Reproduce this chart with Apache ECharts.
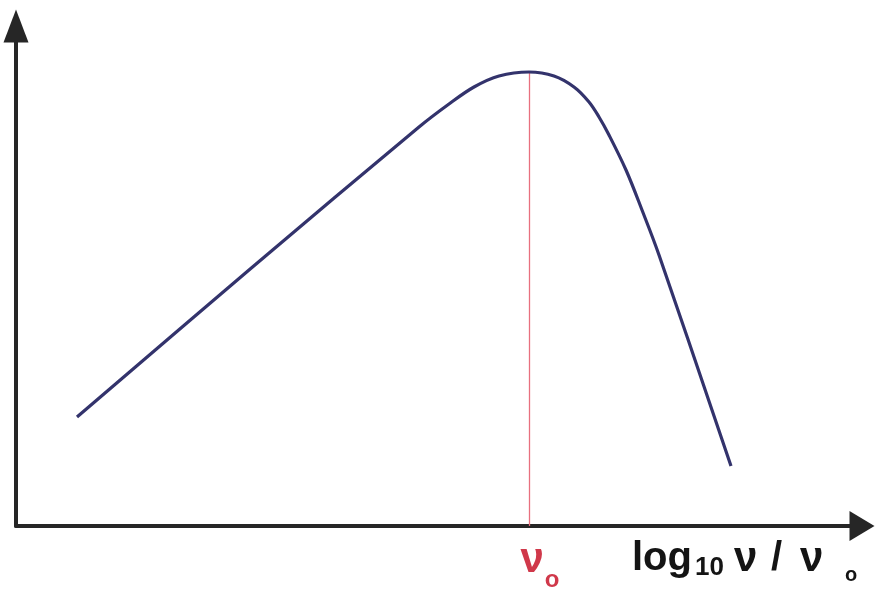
<!DOCTYPE html>
<html>
<head>
<meta charset="utf-8">
<script src="https://cdn.jsdelivr.net/npm/echarts@6/dist/echarts.min.js"></script>
<style>
  html, body { margin: 0; padding: 0; background: #fff; }
  #chart { width: 875px; height: 590px; }
</style>
</head>
<body>
<div id="chart"></div>
<script>
// Spectrum shape: x = log10(nu / nu0), y = log flux (arbitrary units)
const logNu = [-4.52, -2.80, -1.10, -0.80, -0.55, -0.30, 0.00, 0.25, 0.45, 0.60, 0.70, 0.80, 0.97, 1.13, 1.30, 2.02];
const logFlux = [1.09, 2.56, 3.99, 4.22, 4.39, 4.50, 4.54, 4.50, 4.39, 4.24, 4.09, 3.91, 3.56, 3.16, 2.71, 0.60];
const peakX = 0;        // nu = nu0
const peakY = 4.54;

const xRange = [-5.13, 3.33];
const yRange = [0, 5];

const chart = echarts.init(document.getElementById('chart'), null, { renderer: 'canvas' });

const fontFamily = '"Liberation Sans", Arial, sans-serif';
const ink = '#141414';
const red = '#d0384a';

// Axis title pieces: log10 ν / ν o
function titlePiece(text, x, y, size) {
  return {
    type: 'text',
    x: x,
    y: y,
    style: {
      text: text,
      fill: ink,
      font: 'bold ' + size + 'px ' + fontFamily,
      align: 'left',
      verticalAlign: 'middle'
    }
  };
}

chart.setOption({
  animation: false,
  backgroundColor: '#ffffff',
  grid: { left: 16, right: 13, top: 26, bottom: 64 },
  xAxis: {
    type: 'value',
    min: xRange[0],
    max: xRange[1],
    axisLine: {
      onZero: false,
      symbol: ['none', 'triangle'],
      symbolSize: [30, 25],
      lineStyle: { color: '#262626', width: 4 }
    },
    axisTick: { show: false },
    axisLabel: { show: false },
    splitLine: { show: false }
  },
  yAxis: {
    type: 'value',
    min: yRange[0],
    max: yRange[1],
    axisLine: {
      show: true,
      onZero: false,
      symbol: ['none', 'triangle'],
      symbolSize: [25, 33],
      lineStyle: { color: '#262626', width: 4 }
    },
    axisTick: { show: false },
    axisLabel: { show: false },
    splitLine: { show: false }
  },
  series: [{
    type: 'line',
    data: logNu.map((x, i) => [x, logFlux[i]]),
    smooth: 0.35,
    showSymbol: false,
    lineStyle: { color: '#33336c', width: 3.2 },
    z: 3,
    markLine: {
      silent: true,
      symbol: ['none', 'none'],
      z: 2,
      lineStyle: { color: '#e8707f', width: 1.3, type: 'solid', opacity: 1 },
      emphasis: { disabled: true },
      label: {
        show: true,
        position: 'start',
        distance: 2,
        formatter: '{nu|ν}{sub|o}',
        rich: {
          nu: { fontSize: 42, fontWeight: 'bold', color: red, fontFamily: fontFamily, padding: [0, 0, 0, 22] },
          sub: { fontSize: 24, fontWeight: 'bold', color: red, fontFamily: fontFamily, padding: [40, 0, 0, 1] }
        }
      },
      data: [[
        { coord: [peakX, 0], lineStyle: { color: '#e8707f', width: 1.3 } },
        { coord: [peakX, peakY] }
      ]]
    }
  }],
  graphic: [
    titlePiece('log', 632, 559, 40),
    titlePiece('10', 695, 568, 26),
    titlePiece('ν', 734, 559, 42),
    titlePiece('/', 771, 559, 40),
    titlePiece('ν', 800, 559, 42),
    titlePiece('o', 845, 575, 20)
  ]
});
</script>
</body>
</html>
